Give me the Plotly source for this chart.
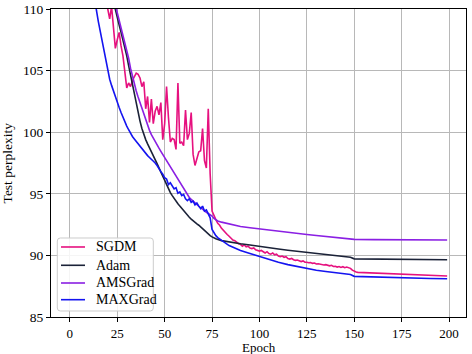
import plotly.graph_objects as go

# ---------------- data ----------------
sgdm_epoch = [10, 15, 18, 19, 20, 21, 22, 23, 24, 25, 26, 27, 28, 29, 30, 31, 32, 33, 34, 35,
              36, 37, 38, 39, 40, 41, 42, 43, 44, 45, 46, 47, 48, 49, 50, 51, 52, 53, 54, 55,
              56, 57, 58, 59, 60, 61, 62, 63, 64, 65, 66, 67, 68, 69, 70, 71, 72, 73, 74, 75,
              76, 77, 78, 79, 80, 81, 82, 83, 84, 85, 86, 87, 88, 89, 90, 91, 92, 93, 94, 95,
              96, 97, 98, 99, 100, 101, 102, 103, 104, 105, 106, 107, 108, 109, 110, 111, 112,
              113, 114, 115, 116, 117, 118, 119, 120, 121, 122, 123, 124, 125, 126, 127, 128,
              129, 130, 131, 132, 133, 134, 135, 136, 137, 138, 139, 140, 141, 142, 143, 144,
              145, 146, 147, 148, 149, 150, 151, 152, 155, 158, 160, 163, 166, 170, 173, 176,
              180, 184, 188, 192, 196, 199]
sgdm_val = [125, 117, 112.5, 111.0, 110.0, 109.2, 110.2, 108.3, 106.8, 107.5, 108.1, 107.0, 106.2,
            104.9, 103.6, 104.0, 103.7, 104.2, 104.5, 104.8, 104.7, 104.4, 103.7, 104.1, 101.9,
            102.9, 100.8, 102.7, 100.7, 101.7, 102.1, 101.4, 102.4, 99.4, 100.7, 103.7, 101.2,
            99.2, 99.5, 99.4, 98.6, 104.0, 99.1, 99.2, 98.9, 101.8, 99.4, 99.9, 101.6, 98.2,
            97.3, 97.8, 98.4, 98.5, 100.3, 97.7, 97.1, 101.9, 96.6, 93.6,
            93.2, 92.9, 92.6, 92.45, 92.2, 92.0, 91.8, 91.7, 91.55, 91.4, 91.25, 91.2, 91.05,
            90.95, 90.9, 90.75, 90.85, 90.7, 90.75, 90.6, 90.55, 90.6, 90.45, 90.4, 90.35, 90.4,
            90.3, 90.2, 90.3, 90.15, 90.1, 90.2, 90.05, 90.1, 89.95, 89.9, 89.95, 89.85, 89.9,
            89.75, 89.7, 89.75, 89.65, 89.6, 89.62, 89.55, 89.5, 89.55, 89.45, 89.45, 89.4,
            89.42, 89.35, 89.38, 89.3, 89.32, 89.28, 89.3, 89.22, 89.25, 89.2, 89.15, 89.2,
            89.1, 89.12, 89.05, 89.1, 89.02, 89.08, 89.0, 89.05, 88.98, 88.95, 88.8, 88.7,
            88.65, 88.62, 88.6, 88.58, 88.55, 88.55, 88.52, 88.5, 88.48, 88.46, 88.45, 88.42,
            88.4, 88.38, 88.35, 88.33]

adam_epoch = [18, 21, 23, 24, 25, 26, 27, 28, 29, 30, 31, 32, 33, 35, 37, 38, 39, 40, 41, 42,
              43, 44, 45, 46, 47, 48, 49, 50, 51, 52, 53, 54, 55, 56, 57, 58, 59, 60, 61, 62,
              63, 64, 65, 66, 67, 68, 69, 70, 71, 72, 73, 74, 75, 77, 80, 85, 90, 95, 100, 105,
              110, 115, 120, 125, 130, 135, 140, 145, 148, 150, 160, 170, 180, 190, 199]
adam_val = [116, 112.3, 110.6, 109.9, 109.3, 108.7, 108.1, 107.5, 106.9, 106.2, 105.4, 104.6,
            103.8, 102.3, 100.9, 100.3, 99.8, 99.4, 99.05, 98.75, 98.45, 98.1, 97.8, 97.45,
            97.1, 96.75, 96.45, 96.05, 95.75, 95.45, 95.1, 94.85, 94.6, 94.4, 94.2, 94.0, 93.8,
            93.6, 93.4, 93.25, 93.1, 92.95, 92.8, 92.7, 92.55, 92.45, 92.3, 92.2, 92.05, 91.9,
            91.75, 91.6, 91.5, 91.35, 91.2, 91.05, 90.95, 90.85, 90.72, 90.62, 90.52, 90.42,
            90.33, 90.25, 90.15, 90.05, 89.97, 89.9, 89.85, 89.72, 89.7, 89.68, 89.67, 89.66,
            89.65]

ams_epoch = [20, 23, 24, 25, 26, 27, 28, 29, 30, 31, 32, 33, 34, 35, 36, 37, 38, 39, 40, 41,
             42, 43, 44, 45, 46, 47, 48, 49, 50, 51, 52, 53, 54, 55, 56, 57, 58, 59, 60, 61,
             62, 63, 64, 65, 66, 67, 68, 69, 70, 71, 72, 73, 74, 75, 76, 77, 78, 80, 85, 90,
             95, 100, 105, 110, 115, 120, 125, 130, 135, 140, 145, 148, 150, 160, 175, 199]
ams_val = [114.5, 111.2, 110.4, 109.7, 109.1, 108.5, 107.95, 107.3, 106.7, 106.0, 105.2, 104.5,
           103.9, 103.35, 102.85, 102.4, 101.9, 101.4, 101.0, 100.55, 100.15, 99.8, 99.5, 99.2,
           98.95, 98.7, 98.45, 98.2, 97.95, 97.7, 97.4, 97.1, 96.85, 96.6, 96.35, 96.1, 95.85,
           95.6, 95.35, 95.1, 94.9, 94.7, 94.55, 94.4, 94.25, 94.1, 94.0, 93.85, 93.75, 93.6,
           93.5, 93.4, 93.3, 93.2, 93.0, 92.9, 92.8, 92.7, 92.5, 92.35, 92.25, 92.15, 92.05,
           91.95, 91.87, 91.78, 91.7, 91.62, 91.55, 91.48, 91.42, 91.38, 91.3, 91.28, 91.26,
           91.25]

max_epoch = [10, 12, 13, 14, 15, 16, 17, 18, 19, 20, 21, 22, 23, 24, 25, 26, 27, 28, 29, 30,
             31, 32, 33, 34, 35, 36, 37, 38, 39, 40, 41, 42, 43, 44, 45, 46, 47, 48, 49, 50,
             51, 52, 53, 54, 55, 56, 57, 58, 59, 60, 61, 62, 63, 64, 65, 66, 67, 68, 69, 70,
             71, 72, 73, 74, 75, 76, 77, 78, 79, 80, 82, 84, 87, 90, 95, 100, 105, 110, 115,
             120, 125, 130, 135, 140, 145, 148, 150, 155, 160, 170, 180, 190, 199]
max_val = [115, 112.3, 111.0, 109.9, 109.0, 108.2, 107.4, 106.6, 105.8, 105.0, 104.3, 103.8,
           103.3, 102.8, 102.4, 102.0, 101.6, 101.2, 100.8, 100.5, 100.2, 99.9, 99.65, 99.45,
           99.25, 99.0, 98.8, 98.6, 98.45, 98.25, 98.1, 97.95, 97.8, 97.7, 97.5, 97.3, 97.0,
           96.8, 96.6, 96.3, 96.2, 95.75, 95.9, 95.6, 95.4, 95.5, 95.05, 95.15, 94.85, 94.95,
           94.6, 94.45, 94.6, 94.3, 94.4, 94.1, 94.25, 94.0, 93.8, 94.0, 93.6, 93.7, 93.3,
           93.05, 92.1, 91.8, 91.6, 91.45, 91.35, 91.2, 91.0, 90.8, 90.6, 90.4, 90.15, 89.9,
           89.65, 89.45, 89.25, 89.08, 88.92, 88.8, 88.7, 88.6, 88.5, 88.45, 88.3, 88.27, 88.24,
           88.2, 88.15, 88.12, 88.1]

x_ticks = [0, 25, 50, 75, 100, 125, 150, 175, 200]
y_ticks = [85, 90, 95, 100, 105, 110]

names = ["SGDM", "Adam", "AMSGrad", "MAXGrad"]
colors = ["#e6117f", "#1b2238", "#8a1fe3", "#1414f0"]
xs_all = [sgdm_epoch, adam_epoch, ams_epoch, max_epoch]
ys_all = [sgdm_val, adam_val, ams_val, max_val]

FONT = "Liberation Serif, Times New Roman, serif"

fig = go.Figure()
for name, xs, ys, col in zip(names, xs_all, ys_all, colors):
    fig.add_trace(go.Scatter(x=xs, y=ys, mode="lines", name=name,
                             line=dict(color=col, width=1.6), showlegend=False))

axis_common = dict(
    showline=True, linecolor="black", linewidth=1.2, mirror=True,
    ticks="outside", ticklen=4, tickcolor="black", tickwidth=1,
    showgrid=True, gridcolor="#b8b8b8", gridwidth=1, zeroline=False,
    tickfont=dict(family=FONT, size=13.5, color="black"),
    automargin=False,
)

# ---- legend drawn in paper coordinates (matplotlib-like box) ----
PW, PH = 415.0, 308.0
x0, x1, y0, y1 = 0.0152, 0.2465, 0.0195, 0.2565
rx, ry = 3 / PW, 3 / PH
box_path = (f"M {x0+rx},{y0} L {x1-rx},{y0} Q {x1},{y0} {x1},{y0+ry} "
            f"L {x1},{y1-ry} Q {x1},{y1} {x1-rx},{y1} L {x0+rx},{y1} "
            f"Q {x0},{y1} {x0},{y1-ry} L {x0},{y0+ry} Q {x0},{y0} {x0+rx},{y0} Z")
shapes = [dict(type="path", path=box_path, xref="paper", yref="paper",
               fillcolor="rgba(255,255,255,0.85)", line=dict(color="#cccccc", width=1),
               layer="above")]
annotations = []
leg_y = [0.2273, 0.1679, 0.1104, 0.0562]
for name, col, ly in zip(names, colors, leg_y):
    shapes.append(dict(type="line", xref="paper", yref="paper", x0=0.0241, x1=0.0819,
                       y0=ly, y1=ly, line=dict(color=col, width=1.6), layer="above"))
    annotations.append(dict(text=name, xref="paper", yref="paper", x=0.1043, y=ly,
                            xanchor="left", yanchor="middle", showarrow=False,
                            font=dict(family=FONT, size=14, color="black")))

annotations += [
    dict(text="Epoch", xref="paper", yref="paper", x=0.5, y=-0.0975,
         xanchor="center", yanchor="middle", showarrow=False, borderpad=0,
         font=dict(family=FONT, size=13, color="black")),
    dict(text="Test perplexity", xref="paper", yref="paper", x=-0.105, y=0.5,
         xanchor="center", yanchor="middle", textangle=-90, showarrow=False,
         font=dict(family=FONT, size=13.5, color="black")),
]

fig.update_layout(
    width=472, height=354,
    margin=dict(l=51, r=6, t=9, b=37),
    paper_bgcolor="white", plot_bgcolor="white",
    font=dict(family=FONT, size=13, color="black"),
    showlegend=False,
    xaxis=dict(range=[-9.95, 208.95], tickvals=x_ticks, **axis_common),
    yaxis=dict(range=[85, 110], tickvals=y_ticks, **axis_common),
    shapes=shapes,
    annotations=annotations,
)
fig.update_xaxes(tickfont=dict(size=13))

fig.write_html("out.html", config={"displayModeBar": False},
               post_script="document.body.style.margin='0';")
